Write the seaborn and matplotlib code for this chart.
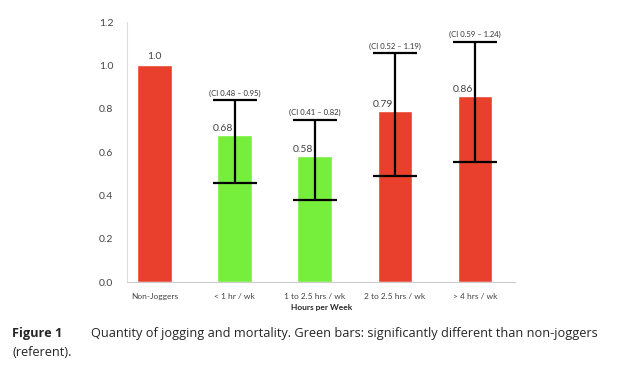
import matplotlib
matplotlib.use("Agg")
import matplotlib.pyplot as plt
import numpy as np
import pandas as pd
import seaborn as sns

# Data
groups = ["Non-Joggers", "< 1 hr / wk", "1 to 2.5 hrs / wk", "2 to 2.5 hrs / wk", "> 4 hrs / wk"]
values = [1.0, 0.68, 0.58, 0.79, 0.86]
value_labels = ["1.0", "0.68", "0.58", "0.79", "0.86"]
significant = [False, True, True, False, False]
err_low = [np.nan, 0.455, 0.378, 0.488, 0.553]
err_high = [np.nan, 0.84, 0.75, 1.057, 1.11]
ci_labels = ["", "(CI 0.48 \u2013 0.95)", "(CI 0.41 \u2013 0.82)", "(CI 0.52 \u2013 1.19)", "(CI 0.59 \u2013 1.24)"]

df = pd.DataFrame({"group": groups, "value": values,
                   "sig": ["yes" if s else "no" for s in significant]})

sns.set_style("white")
plt.rcParams["font.family"] = ["Lato", "DejaVu Sans"]

fig = plt.figure(figsize=(6.17, 3.75), dpi=100)
ax = fig.add_axes([0.206, 0.248, 0.629, 0.693])

sns.barplot(data=df, x="group", y="value", hue="sig", palette={"no": "#E8402C", "yes": "#76EE3C"},
            width=0.43, dodge=False, legend=False, ax=ax, saturation=1)

# asymmetric error bars
x = np.arange(len(groups))
v = np.array(values)
lo = np.array(err_low)
hi = np.array(err_high)
m = ~np.isnan(lo)
ax.errorbar(x[m], v[m], yerr=[v[m] - lo[m], hi[m] - v[m]], fmt="none",
            ecolor="black", elinewidth=1.6, capsize=15.5, capthick=1.6)

for i in range(len(groups)):
    if i == 0:
        ax.text(x[i], values[i] + 0.02, value_labels[i], ha="center", va="bottom", fontsize=7.5, color="#444444")
    else:
        ax.text(x[i] - 0.15, values[i] + 0.01, value_labels[i], ha="center", va="bottom", fontsize=7.5, color="#444444")
        ax.text(x[i], err_high[i] + 0.015, ci_labels[i], ha="center", va="bottom", fontsize=5.5, color="#333333")

ax.set_xlim(-0.34, 4.35)
ax.set_ylim(0, 1.2)
ax.set_yticks(np.arange(0, 1.21, 0.2))
ax.set_yticklabels([f"{t:.1f}" for t in np.arange(0, 1.21, 0.2)], fontsize=7.5, color="#444444")
ax.set_xticks(x)
ax.set_xticklabels(groups, fontsize=6, color="#444444")
ax.set_xticks(np.arange(0.5, 4.6, 1), minor=True)
ax.tick_params(axis="x", which="major", length=0, pad=8)
ax.tick_params(axis="x", which="minor", length=3, color="#bbbbbb", direction="out")
ax.tick_params(axis="y", length=0, pad=10)
ax.set_xlabel("Hours per Week", fontsize=6, fontweight="bold", labelpad=3)
ax.set_ylabel("")

for s in ["top", "right"]:
    ax.spines[s].set_visible(False)
ax.spines["left"].set_color("#dddddd")
ax.spines["bottom"].set_color("#cccccc")
ax.spines["left"].set_linewidth(0.8)
ax.spines["bottom"].set_linewidth(0.8)

cap_font = ["Open Sans", "DejaVu Sans"]
fig.text(0.02, 0.1, "Figure 1", fontsize=9.2, fontweight="bold", family=cap_font)
fig.text(0.148, 0.1, "Quantity of jogging and mortality. Green bars: significantly different than non-joggers",
         fontsize=9.2, family=cap_font)
fig.text(0.02, 0.05, "(referent).", fontsize=9.2, family=cap_font)

fig.savefig("out.png", dpi=100)
